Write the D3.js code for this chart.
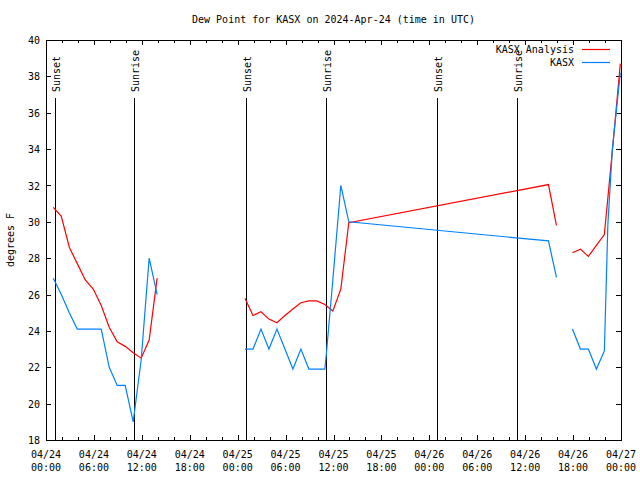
<!DOCTYPE html>
<html>
<head>
<meta charset="utf-8">
<script src="https://cdn.jsdelivr.net/npm/d3@7"></script>
<style>
  html, body { margin: 0; padding: 0; background: #fff; }
  svg { display: block; }
  text { font-family: "DejaVu Sans Mono", monospace; font-size: 10px; fill: #000; }
</style>
</head>
<body>
<svg id="chart" width="640" height="480"></svg>
<script>
// ---------------- data ----------------
const titleText = "Dew Point for KASX on 2024-Apr-24 (time in UTC)";
const yLabel = "degrees F";
const seriesNames = ["KASX Analysis", "KASX"];

// null entries mark breaks in the record
const analysisTimes = [
  "2024-04-24 00:55","2024-04-24 01:55","2024-04-24 02:55","2024-04-24 03:55","2024-04-24 04:55",
  "2024-04-24 05:55","2024-04-24 06:55","2024-04-24 07:55","2024-04-24 08:55","2024-04-24 09:55",
  "2024-04-24 10:55","2024-04-24 11:55","2024-04-24 12:55","2024-04-24 13:55",
  null,
  "2024-04-25 00:55","2024-04-25 01:55","2024-04-25 02:55","2024-04-25 03:55","2024-04-25 04:55",
  "2024-04-25 05:55","2024-04-25 06:55","2024-04-25 07:55","2024-04-25 08:55","2024-04-25 09:55",
  "2024-04-25 10:55","2024-04-25 11:55","2024-04-25 12:55","2024-04-25 13:55",
  "2024-04-26 14:55","2024-04-26 15:55",
  null,
  "2024-04-26 17:55","2024-04-26 18:55","2024-04-26 19:55","2024-04-26 20:55","2024-04-26 21:55",
  "2024-04-26 22:55","2024-04-26 23:55"
];
const analysisDew = [
  30.8, 30.3, 28.6, 27.7, 26.8, 26.3, 25.4, 24.2, 23.4, 23.15, 22.8, 22.5, 23.5, 26.9,
  null,
  25.8, 24.85, 25.05, 24.65, 24.45, 24.85, 25.2, 25.55, 25.65, 25.65, 25.45, 25.1, 26.3, 29.95,
  32.05, 29.8,
  null,
  28.3, 28.5, 28.1, 28.7, 29.3, 33.9, 38.7
];

const obsTimes = [
  "2024-04-24 00:55","2024-04-24 01:55","2024-04-24 02:55","2024-04-24 03:55","2024-04-24 04:55",
  "2024-04-24 05:55","2024-04-24 06:55","2024-04-24 07:55","2024-04-24 08:55","2024-04-24 09:55",
  "2024-04-24 10:55","2024-04-24 11:55","2024-04-24 12:55","2024-04-24 13:55",
  null,
  "2024-04-25 00:55","2024-04-25 01:55","2024-04-25 02:55","2024-04-25 03:55","2024-04-25 04:55",
  "2024-04-25 05:55","2024-04-25 06:55","2024-04-25 07:55","2024-04-25 08:55","2024-04-25 09:55",
  "2024-04-25 10:55","2024-04-25 11:06","2024-04-25 11:55","2024-04-25 12:55","2024-04-25 13:55",
  "2024-04-26 14:55","2024-04-26 15:55",
  null,
  "2024-04-26 17:55","2024-04-26 18:55","2024-04-26 19:55","2024-04-26 20:55","2024-04-26 21:55",
  "2024-04-26 22:21","2024-04-26 22:55","2024-04-26 23:55"
];
const obsDew = [
  26.9, 26.0, 25.0, 24.1, 24.1, 24.1, 24.1, 22.0, 21.0, 21.0, 19.0, 22.4, 28.0, 26.0,
  null,
  23.0, 23.0, 24.1, 23.0, 24.1, 23.0, 21.9, 23.0, 21.9, 21.9, 21.9, 22.7, 26.8, 32.0, 30.0,
  28.95, 26.95,
  null,
  24.1, 23.0, 23.0, 21.9, 22.9, 29.8, 34.0, 38.2
];

const sunEventTimes = ["2024-04-24 01:04","2024-04-24 11:04","2024-04-25 01:05","2024-04-25 11:05","2024-04-26 00:59","2024-04-26 10:59"];
const sunEventLabels = ["Sunset","Sunrise","Sunset","Sunrise","Sunset","Sunrise"];

const xStart = "2024-04-24 00:00", xEnd = "2024-04-27 00:00";
const yMin = 18, yMax = 40, yStep = 2;

// ---------------- drawing ----------------
const parse = d3.utcParse("%Y-%m-%d %H:%M");
const svg = d3.select("#chart");
const L = 46, R = 621, T = 40, B = 440;

const x = d3.scaleUtc().domain([parse(xStart), parse(xEnd)]).range([L, R]);
const y = d3.scaleLinear().domain([yMin, yMax]).range([B, T]);

const majorX = d3.utcHour.every(6).range(parse(xStart), d3.utcHour.offset(parse(xEnd), 1));
const minorX = d3.utcHour.every(2).range(parse(xStart), parse(xEnd)).filter(d => d.getUTCHours() % 6 !== 0);
const yTicks = d3.range(yMin, yMax + 0.001, yStep);

// title
svg.append("text").attr("x", (L + R) / 2).attr("y", 23).attr("text-anchor", "middle").text(titleText);
// y label
svg.append("text").attr("transform", `translate(14,${(T + B) / 2}) rotate(-90)`)
  .attr("text-anchor", "middle").text(yLabel);

function styleAxis(g) {
  g.select(".domain").remove();
  g.selectAll("line").attr("stroke", "#000").attr("shape-rendering", "crispEdges");
}

// bottom axis ticks
svg.append("g").attr("transform", `translate(0,${B})`)
  .call(d3.axisBottom(x).tickValues(majorX).tickSize(-5).tickFormat(""))
  .call(styleAxis);
svg.append("g").attr("transform", `translate(0,${B})`)
  .call(d3.axisBottom(x).tickValues(minorX).tickSize(-3).tickFormat(""))
  .call(styleAxis);
// top axis ticks
svg.append("g").attr("transform", `translate(0,${T})`)
  .call(d3.axisTop(x).tickValues(majorX).tickSize(-5).tickFormat(""))
  .call(styleAxis);
svg.append("g").attr("transform", `translate(0,${T})`)
  .call(d3.axisTop(x).tickValues(minorX).tickSize(-3).tickFormat(""))
  .call(styleAxis);
// left axis
const gl = svg.append("g").attr("transform", `translate(${L},0)`)
  .call(d3.axisLeft(y).tickValues(yTicks).tickSize(-5).tickPadding(6).tickFormat(d3.format("d")))
  .call(styleAxis);
gl.selectAll("text").attr("font-family", null).attr("font-size", null).attr("fill", "#000").attr("dy", "0.36em");
// right axis
svg.append("g").attr("transform", `translate(${R},0)`)
  .call(d3.axisRight(y).tickValues(yTicks).tickSize(-5).tickFormat(""))
  .call(styleAxis);

// x tick labels (two lines)
const fmtDate = d3.utcFormat("%m/%d"), fmtTime = d3.utcFormat("%H:%M");
const xl = svg.append("g").selectAll("text").data(majorX).join("text")
  .attr("text-anchor", "middle");
xl.append("tspan").attr("x", d => x(d)).attr("y", 458).text(fmtDate);
xl.append("tspan").attr("x", d => x(d)).attr("y", 471).text(fmtTime);

// sunrise / sunset lines
const sun = sunEventTimes.map((t, i) => ({ t: parse(t), label: sunEventLabels[i] }));
svg.append("g").selectAll("line").data(sun).join("line")
  .attr("x1", d => Math.round(x(d.t))).attr("x2", d => Math.round(x(d.t)))
  .attr("y1", 98).attr("y2", B)
  .attr("stroke", "#000").attr("stroke-width", 1).attr("shape-rendering", "crispEdges");
svg.append("g").selectAll("text").data(sun).join("text")
  .attr("transform", d => `translate(${Math.round(x(d.t)) + 5},92) rotate(-90)`)
  .attr("text-anchor", "start").text(d => d.label);

// plot border
svg.append("rect").attr("x", L).attr("y", T).attr("width", R - L).attr("height", B - T)
  .attr("fill", "none").attr("stroke", "#000").attr("shape-rendering", "crispEdges");

// series
function toPoints(times, vals) {
  return times.map((t, i) => ({ t: t == null ? null : parse(t), v: vals[i] }));
}
const line = d3.line().defined(d => d.t != null && d.v != null).x(d => x(d.t)).y(d => y(d.v));
const series = [
  { name: seriesNames[0], color: "#ff0000", pts: toPoints(analysisTimes, analysisDew) },
  { name: seriesNames[1], color: "#0080ff", pts: toPoints(obsTimes, obsDew) }
];
svg.append("g").selectAll("path").data(series).join("path")
  .attr("d", d => line(d.pts)).attr("fill", "none")
  .attr("stroke", d => d.color).attr("stroke-width", 1.2);

// legend
const lg = svg.append("g").selectAll("g").data(series).join("g")
  .attr("transform", (d, i) => `translate(0,${49.5 + i * 13})`);
lg.append("text").attr("x", 574).attr("y", 3.6).attr("text-anchor", "end").text(d => d.name);
lg.append("line").attr("x1", 582).attr("x2", 610).attr("y1", 0).attr("y2", 0)
  .attr("stroke", d => d.color).attr("stroke-width", 1.2);
</script>
</body>
</html>
